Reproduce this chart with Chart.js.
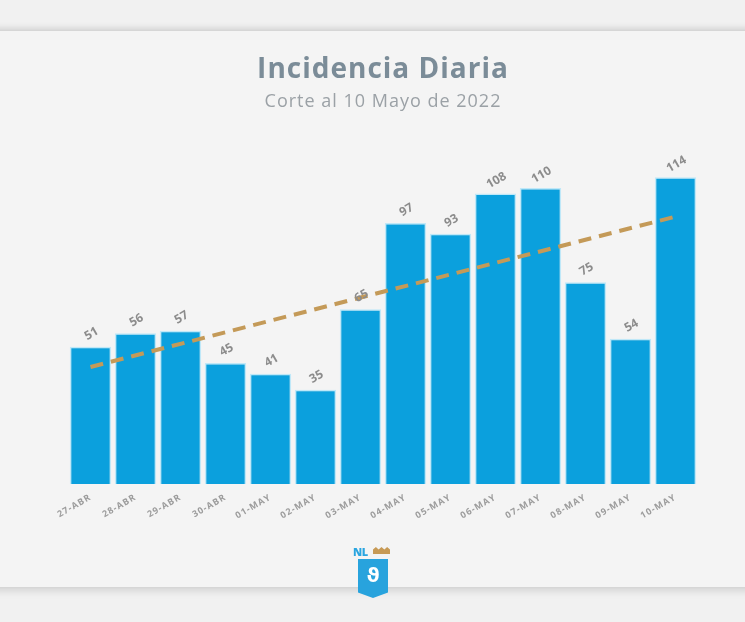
<!DOCTYPE html>
<html>
<head>
<meta charset="utf-8">
<script src="https://cdn.jsdelivr.net/npm/chart.js@4/dist/chart.umd.min.js"></script>
<style>
  html, body { margin: 0; padding: 0; }
  body { width: 745px; height: 622px; background: #f1f1f1; position: relative; overflow: hidden; font-family: "Open Sans", sans-serif; }
  .panel { position: absolute; left: -10px; right: -10px; top: 31px; height: 556px; background: #f4f4f4;
           box-shadow: 0 -3px 6px rgba(0,0,0,0.12), 0 4px 8px rgba(0,0,0,0.12); }
  #wrap { position: absolute; left: 0; top: 0; width: 745px; height: 622px; }
  .logo { position: absolute; left: 352px; top: 544px; width: 42px; height: 56px; }
  .logo .nl { position: absolute; left: 1px; top: 0; font: 800 11px "Open Sans", sans-serif; color: #2aa5e0; letter-spacing: -0.5px; }
  .logo .crown { position: absolute; left: 21px; top: 3px; width: 17px; height: 7px; background: #c79a55;
                 clip-path: polygon(0 35%, 17% 0, 33% 35%, 50% 0, 67% 35%, 83% 0, 100% 35%, 100% 100%, 0 100%); }
  .logo .shield { position: absolute; left: 6px; top: 15px; width: 30px; height: 39px; background: #28a3dd;
                  clip-path: polygon(0 0, 100% 0, 100% 86%, 50% 100%, 0 86%); }
  .logo .glyph { position: absolute; left: 13px; top: 19px; width: 16px; height: 26px; color: #fff; font: 700 20px "DejaVu Sans", sans-serif; text-align: center; }
</style>
</head>
<body>
<div class="panel"></div>
<div id="wrap"><canvas id="incChart" width="745" height="622"></canvas></div>
<div class="logo">
  <div class="nl">NL</div>
  <div class="crown"></div>
  <div class="shield"></div>
  <div class="glyph">ϑ</div>
</div>
<script>
// Daily cases, 27-Apr to 10-May 2022
const days = ['27-ABR', '28-ABR', '29-ABR', '30-ABR', '01-MAY', '02-MAY', '03-MAY',
              '04-MAY', '05-MAY', '06-MAY', '07-MAY', '08-MAY', '09-MAY', '10-MAY'];
const cases = [51, 56, 57, 45, 41, 35, 65, 97, 93, 108, 110, 75, 54, 114];
// trend line endpoints (only ends drawn, gaps spanned)
const trend = [43.5, null, null, null, null, null, null, null, null, null, null, null, null, 99.4];

// wider letter spacing for title/subtitle/ticks (the original font is a wide one)
const spacing = {
    id: 'spacing',
    beforeDraw(chart) { chart.ctx.letterSpacing = '1px'; },
    beforeDatasetsDraw(chart) { chart.ctx.letterSpacing = '0px'; }
};

// Rotated value labels above each bar
const barValueLabels = {
    id: 'barValueLabels',
    afterDatasetsDraw(chart) {
        const ctx = chart.ctx;
        const meta = chart.getDatasetMeta(1);
        ctx.save();
        ctx.font = 'bold 12px "Open Sans", sans-serif';
        ctx.fillStyle = '#8c8c8c';
        ctx.textAlign = 'center';
        ctx.textBaseline = 'middle';
        meta.data.forEach((bar, i) => {
            ctx.save();
            ctx.translate(bar.x + 1, bar.y - 13);
            ctx.rotate(-30 * Math.PI / 180);
            ctx.fillText(String(cases[i]), 0, 0);
            ctx.restore();
        });
        ctx.restore();
    }
};

const ctx = document.getElementById('incChart').getContext('2d');
new Chart(ctx, {
    data: {
        labels: days,
        datasets: [{
            type: 'line',
            label: 'Tendencia',
            data: trend,
            spanGaps: true,
            borderColor: '#c49a58',
            borderWidth: 4,
            borderDash: [13, 8],
            pointRadius: 0,
            fill: false,
            order: 0
        }, {
            type: 'bar',
            label: 'Casos',
            data: cases,
            backgroundColor: '#0ba0dd',
            borderColor: '#bfe8f8',
            borderWidth: 1.5,
            barPercentage: 0.92,
            categoryPercentage: 1.0,
            order: 1
        }]
    },
    options: {
        responsive: false,
        animation: false,
        layout: { padding: { left: 68, right: 47, top: 0, bottom: 0 } },
        scales: {
            x: {
                grid: { display: false },
                border: { display: false },
                ticks: {
                    color: '#9c9c9c',
                    font: { size: 9, weight: 'bold', family: '"Open Sans", sans-serif' },
                    minRotation: 30,
                    maxRotation: 30,
                    padding: 0
                },
                afterFit(scale) { scale.height = 138; }
            },
            y: {
                display: false,
                min: 0,
                max: 133
            }
        },
        plugins: {
            legend: { display: false },
            tooltip: { enabled: false },
            title: {
                display: true,
                text: 'Incidencia Diaria',
                color: '#7b8c98',
                font: { size: 28, weight: 'bold', family: '"Open Sans", sans-serif' },
                padding: { top: 53, bottom: 2 }
            },
            subtitle: {
                display: true,
                text: 'Corte al 10 Mayo de 2022',
                color: '#9ba1a6',
                font: { size: 18, family: '"Open Sans", sans-serif' },
                padding: { top: 2, bottom: 14 }
            }
        }
    },
    plugins: [spacing, barValueLabels]
});
</script>
</body>
</html>
